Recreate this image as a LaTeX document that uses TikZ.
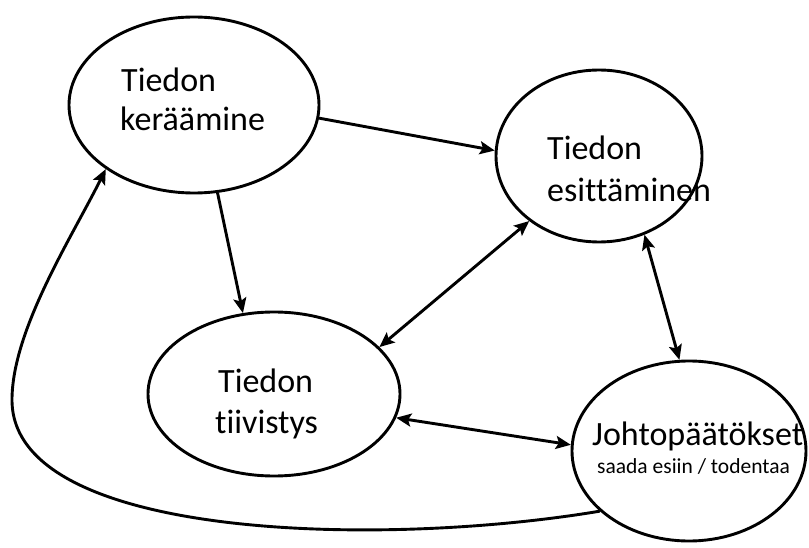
\documentclass[tikz,border=0pt]{standalone}
\usepackage{fontspec}
\setmainfont{Carlito}[Ligatures=NoCommon]
\usetikzlibrary{shapes.geometric,arrows.meta}
\begin{document}
\begin{tikzpicture}[x=1pt,y=-1pt,
  bubble/.style={ellipse, draw=black, line width=2.9pt, inner sep=0pt},
  big/.style={font=\fontsize{34}{40}\selectfont, anchor=base west, inner sep=0pt},
  small/.style={font=\fontsize{21.5}{26}\selectfont, anchor=base west, inner sep=0pt},
  tip/.tip={Stealth[length=15pt,width=13pt,inset=3pt]},
  link/.style={line width=2.9pt, -tip},
  both/.style={line width=2.9pt, tip-tip}]
\useasboundingbox (0,0) rectangle (809,548);
\fill[white] (0,0) rectangle (809,548);

% the four stages
\node[bubble, minimum width=250pt, minimum height=176pt] (ker) at (194,105) {};
\node[bubble, minimum width=206pt, minimum height=172pt] (esi) at (599,156) {};
\node[bubble, minimum width=252pt, minimum height=164pt] (tii) at (274,394) {};
\node[bubble, minimum width=234pt, minimum height=180pt] (joh) at (689,451) {};

% labels
\node[big] (kerA) at (121,92) {Tiedon};
\node[big] (kerB) at (120,131) {keräämine};
\node[big] (esiA) at (547,160) {Tiedon};
\node[big] (esiB) at (547,202) {esittäminen};
\node[big] (tiiA) at (218,392) {Tiedon};
\node[big] (tiiB) at (215,433) {tiivistys};
\node[big] (johA) at (592,445) {Johtopäätökset};
\node[small] (johB) at (597,473) {saada esiin / todentaa};

% connectors
\draw[link] (ker.354) -- (esi.177);
\draw[link] (ker.285) -- (tii.111);
\draw[both] (esi.223) -- (tii.24);
\draw[both] (esi.300) -- (joh.96);
\draw[both] (tii.349) -- (joh.177);
\coordinate (bend) at (12,400);
\draw[link] (joh.214) .. controls (380,548) and (12,540) .. (bend)
  .. controls (12,330) and (72,237) .. (ker.216);
\end{tikzpicture}
\end{document}
